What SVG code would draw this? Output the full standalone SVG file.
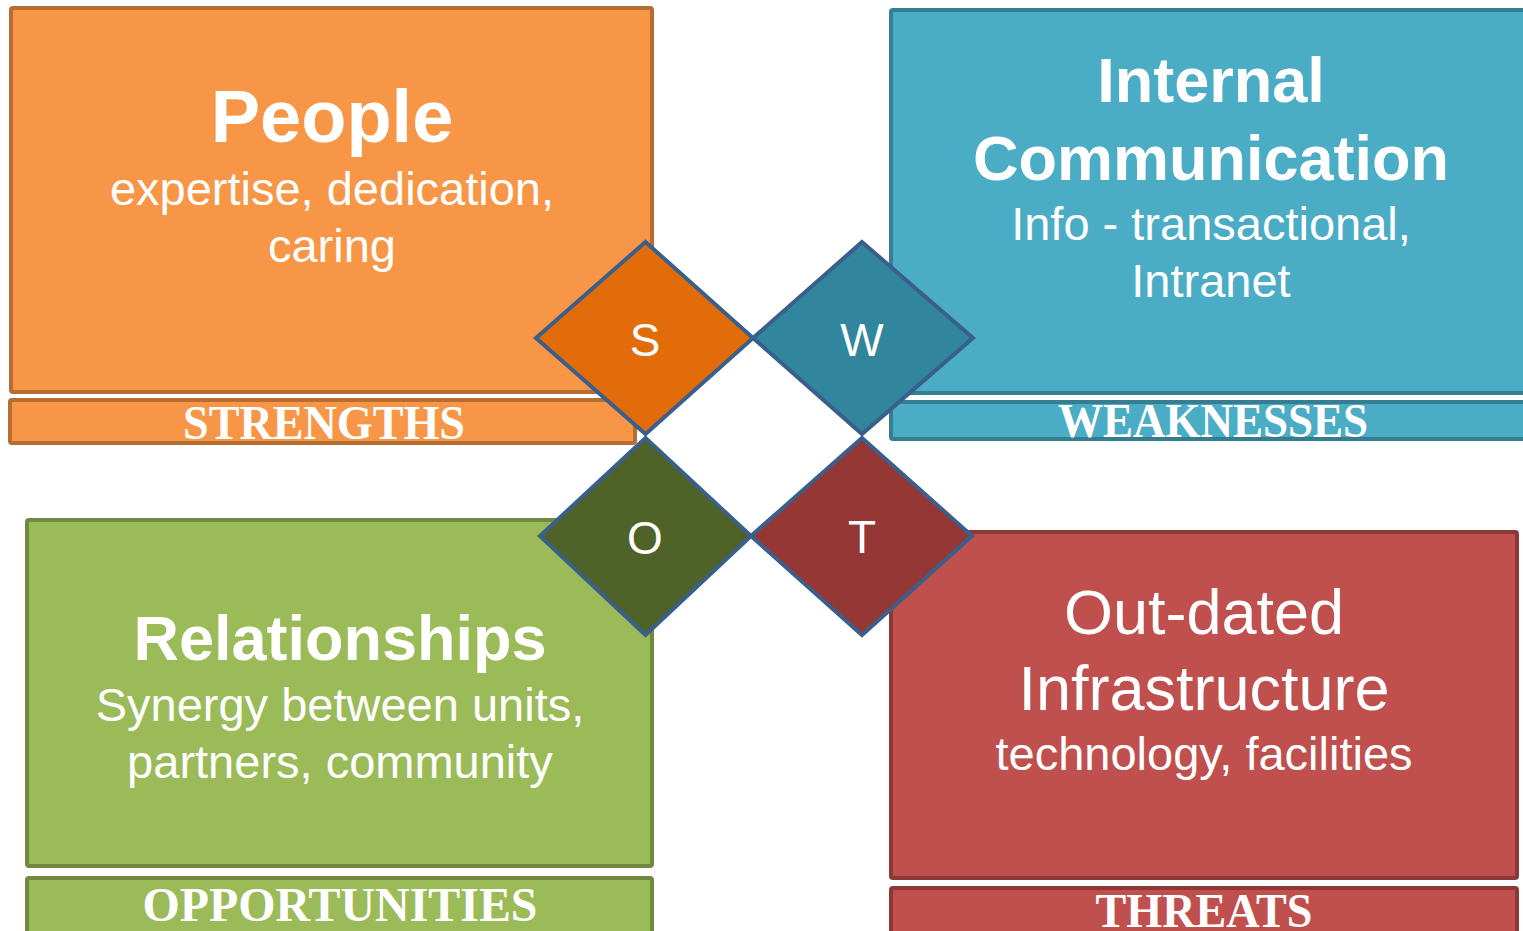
<svg xmlns="http://www.w3.org/2000/svg" width="1523" height="931" viewBox="0 0 1523 931">
<style>
.box{stroke-width:4}
.o{fill:#F79646;stroke:#B66D31}
.b{fill:#4BACC6;stroke:#357D91}
.g{fill:#9BBB59;stroke:#71893F}
.r{fill:#C0504D;stroke:#8C3836}
.t{font-family:"Liberation Sans",Arial,sans-serif;fill:#fff;text-anchor:middle}
.h{font-size:63px;font-weight:bold}
.s{font-size:47px}
.bar{font-family:"Liberation Serif","Times New Roman",serif;font-weight:bold;font-size:48px;fill:#fff;text-anchor:middle}
.dia{stroke:#3A5F8B;stroke-width:4;stroke-linejoin:miter}
.dl{font-family:"Liberation Sans",Arial,sans-serif;font-size:46px;fill:#fff;text-anchor:middle}
</style>
<rect width="1523" height="931" fill="#fff"/>
<g id="strengths">
<rect class="box o" x="11" y="8" width="641" height="384" rx="2"/>
<rect class="box o" x="10" y="400" width="625" height="43" rx="2"/>
<text class="t h" x="332" y="142" style="font-size:74px">People</text>
<text class="t s" x="332" y="205">expertise, dedication,</text>
<text class="t s" x="332" y="262">caring</text>
<text class="bar" x="324" y="439" textLength="282" lengthAdjust="spacingAndGlyphs">STRENGTHS</text>
</g>
<g id="weaknesses">
<rect class="box b" x="891" y="10" width="640" height="383" rx="2"/>
<rect class="box b" x="891" y="402" width="640" height="37" rx="2"/>
<text class="t h" x="1211" y="102">Internal</text>
<text class="t h" x="1211" y="180">Communication</text>
<text class="t s" x="1211" y="240">Info - transactional,</text>
<text class="t s" x="1211" y="297">Intranet</text>
<text class="bar" x="1213" y="437" textLength="310" lengthAdjust="spacingAndGlyphs">WEAKNESSES</text>
</g>
<g id="opportunities">
<rect class="box g" x="27" y="520" width="625" height="346" rx="2"/>
<rect class="box g" x="27" y="878" width="625" height="70" rx="2"/>
<text class="t h" x="340" y="660">Relationships</text>
<text class="t s" x="340" y="721">Synergy between units,</text>
<text class="t s" x="340" y="778">partners, community</text>
<text class="bar" x="340" y="921" textLength="395" lengthAdjust="spacingAndGlyphs">OPPORTUNITIES</text>
</g>
<g id="threats">
<rect class="box r" x="891" y="532" width="626" height="346" rx="2"/>
<rect class="box r" x="891" y="888" width="626" height="70" rx="2"/>
<text class="t h" x="1204" y="634" style="font-weight:normal">Out-dated</text>
<text class="t h" x="1204" y="710" style="font-weight:normal">Infrastructure</text>
<text class="t s" x="1204" y="770">technology, facilities</text>
<text class="bar" x="1204" y="927" textLength="217" lengthAdjust="spacingAndGlyphs">THREATS</text>
</g>
<g id="diamond-S">
<polygon class="dia" points="645.5,242 753,338 645.5,434 536,338" fill="#E36C0A"/>
<text class="dl" x="645" y="356">S</text>
</g>
<g id="diamond-W">
<polygon class="dia" points="862,242 973,338 862,434 753,338" fill="#31859C"/>
<text class="dl" x="862" y="356">W</text>
</g>
<g id="diamond-O">
<polygon class="dia" points="645.5,438 751,536 645.5,635 540,536" fill="#4F6228"/>
<text class="dl" x="645" y="554">O</text>
</g>
<g id="diamond-T">
<polygon class="dia" points="862,438 972,536 862,635 751,536" fill="#953735"/>
<text class="dl" x="862" y="553">T</text>
</g>
<g id="connectors"/>
</svg>
